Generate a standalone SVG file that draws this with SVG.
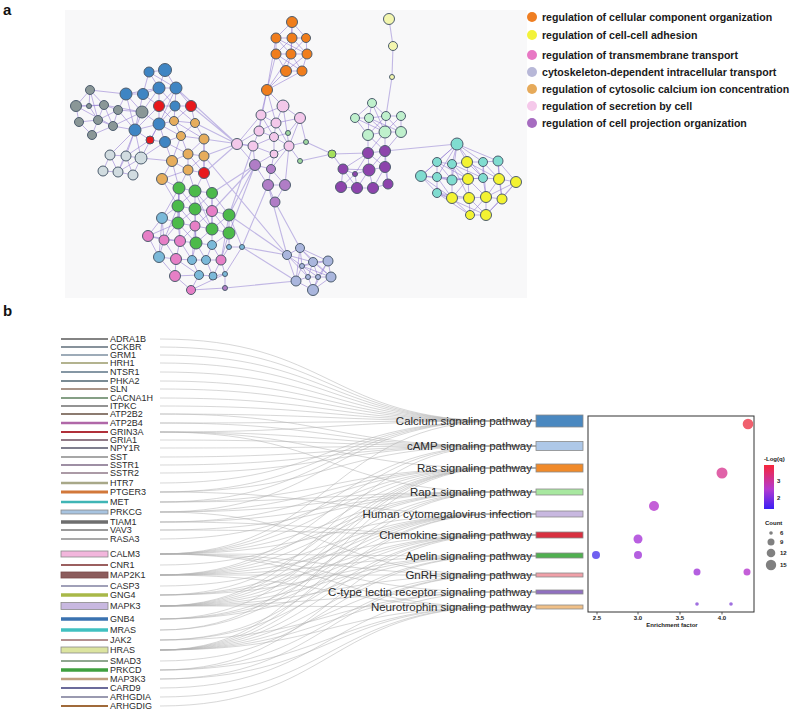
<svg xmlns="http://www.w3.org/2000/svg" width="790" height="713" viewBox="0 0 790 713">
<defs>
<linearGradient id="lq" x1="0" y1="0" x2="0" y2="1">
<stop offset="0" stop-color="#f7263a"/><stop offset="0.55" stop-color="#b43ad0"/><stop offset="1" stop-color="#3a1ff5"/>
</linearGradient>
</defs>
<style>
text{font-family:"Liberation Sans",Arial,sans-serif}
.pl{font-weight:bold;font-size:15px;fill:#111}
.lg{font-weight:bold;font-size:10.6px;fill:#1a1a1a}
.n circle{stroke:#4d5d6e;stroke-width:1}
.e{fill:none;stroke:#8f78d0;stroke-width:0.8;opacity:0.7}
.ex{fill:none;stroke:#b3a6de;stroke-width:1.1;opacity:0.8}
.blue{fill:#3f85c3}.red{fill:#e8191c}.gray{fill:#8a9797}.tan{fill:#e6ad5c}.lgr{fill:#d1dce0}
.grn{fill:#4cba4a}.pnk{fill:#e67fc6}.lbl{fill:#7bb9d9}.org{fill:#f07d1c}.lyl{fill:#f3f6ae}
.lgn{fill:#bff0cc}.lpk{fill:#f3c8ea}.sgn{fill:#9fd89f}.lim{fill:#a4e05a}.pur{fill:#b07dc6}
.dpu{fill:#8d44ac}.lav{fill:#aab6dd}.cyn{fill:#80dcd0}.yel{fill:#f3f332}
.gt{font-size:9px;fill:#2a2a2a}
.pt{font-size:11.5px;fill:#2a2a2a;text-anchor:end}
.lk{fill:none;stroke:#b0b0b0;stroke-width:0.6;opacity:0.85}
.pb{stroke:#8a8a8a;stroke-width:0.8}
.ax{font-size:6px;font-weight:bold;fill:#222}
</style>
<rect width="790" height="713" fill="#ffffff"/>
<text class="pl" x="3" y="15">a</text>
<text class="pl" x="3" y="316">b</text>
<rect x="65" y="10" width="462" height="288" fill="#f8f8f9"/>

<g id="network-edges">
<path class="ex" d="M191,106L237,144M176,88L237,144M204,139L253,146M195,123L237,144M204,173L237,144M204,156L237,144M229,215L255,165M212,193L255,165M229,233L255,165M229,215L253,146M242,247L268,185M212,211L255,165M204,156L287,255M229,215L287,255M242,247L287,255M225,288L296,281M242,247L296,281M275,202L300,248M268,185L287,255M385,151L457,144M332,154L343,169M332,154L368,153M306,142L332,154M300,161L332,154M392,77L386,116M393,46L392,77M389,19L393,46"/>
<path class="e" d="M90,90L76,106M90,90L104,105M90,90L89,106M90,90L98,120M76,106L89,106M76,106L79,122M76,106L104,105M89,106L104,105M89,106L98,120M104,105L118,110M104,105L98,120M104,105L113,126M118,110L142,112M118,110L113,126M118,110L98,120M79,122L98,120M79,122L92,135M98,120L113,126M98,120L92,135M113,126L92,135M113,126L142,112M142,112L126,94M142,112L135,130M118,110L126,94M142,112L159,124M142,112L159,88M104,105L142,112M76,106L113,126M113,126L135,130M118,110L135,130M90,90L126,94"/>
<path class="e" d="M149,72L165,70M149,72L159,88M149,72L176,88M165,70L159,88M165,70L176,88M159,88L176,88M159,88L143,94M126,94L143,94M126,94L159,88M159,88L159,106M176,88L159,106M176,88L175,106M159,88L175,106M159,106L175,106M176,88L191,106M175,106L191,106M159,106L159,124M175,106L159,124M159,124L135,130M135,130L159,106M159,124L165,142M150,140L159,124M150,140L165,142M135,130L150,140M143,94L159,106M126,94L135,130M143,94L135,130M149,72L143,94M159,124L174,121M175,106L174,121M159,106L174,121M159,124L181,136M165,142L181,136M174,121L195,123M174,121L181,136M195,123L181,136M195,123L204,139M181,136L204,139M174,121L204,139M191,106L195,123M191,106L174,121M165,142L188,154M181,136L188,154M204,139L188,154M204,139L204,156M188,154L204,156M188,154L172,161M204,156L188,170M172,161L188,170M188,154L188,170M172,161L162,179M188,170L162,179M204,156L204,173M188,170L204,173M188,154L204,173M204,139L204,173M181,136L172,161M165,142L172,161M159,124L176,88M175,106L195,123"/>
<path class="e" d="M135,130L110,155M135,130L126,156M135,130L141,158M135,130L118,172M110,155L126,156M126,156L141,158M110,155L103,171M103,171L118,172M118,172L133,175M126,156L118,172M141,158L133,175M110,155L118,172M126,156L133,175M141,158L118,172M165,142L141,158M159,124L141,158M141,158L172,161M150,140L126,156"/>
<path class="e" d="M162,179L179,188M162,179L178,206M188,170L179,188M188,170L195,191M204,173L195,191M204,173L212,193M172,161L179,188M179,188L195,191M195,191L212,193M179,188L178,206M179,188L195,209M195,191L178,206M195,191L195,209M212,193L195,209M212,193L212,211M178,206L195,209M178,206L178,223M195,209L212,211M195,209L195,226M195,209L178,223M178,223L195,226M212,211L229,215M212,211L212,229M229,215L212,229M229,215L229,233M212,229L229,233M195,226L212,229M178,223L180,241M178,223L164,240M195,226L180,241M195,226L196,243M212,229L196,243M196,243L180,241M196,243L212,245M212,229L212,245M229,233L212,245M148,236L178,223M148,236L164,240M164,240L180,241M162,218L178,223M162,218L178,206M162,218L148,236M162,218L164,240M148,236L159,257M164,240L176,259M180,241L176,259M176,259L159,257M176,259L192,260M196,243L192,260M196,243L206,260M192,260L206,260M206,260L221,260M212,245L221,260M229,233L221,260M176,259L175,276M175,276L199,275M192,260L199,275M199,275L213,276M206,260L213,276M221,260L213,276M175,276L191,290M191,290L199,275M191,290L225,274M225,274L213,276M229,247L242,247M242,247L229,215M229,247L229,233M242,247L225,274M225,274L225,288M191,290L225,288M159,257L175,276M148,236L180,241M178,206L164,240M178,223L196,243M195,209L212,229M195,191L212,211M179,188L178,223M212,211L195,226M212,245L206,260M176,259L199,275M180,241L192,260M162,218L179,188M229,215L221,260M221,260L225,274M229,247L221,260M212,193L229,215M195,226L192,260M178,206L195,226M195,209L196,243M179,188L180,241M195,191L212,229M212,193L212,229M212,211L229,233M162,218L159,257M164,240L159,257"/>
<path class="e" d="M267,90L276,54M267,90L286,71M267,90L276,38M267,90L291,54M267,90L302,71M267,90L261,115M267,90L283,106M267,90L259,131M267,90L276,123M292,22L276,38M292,22L292,38M292,22L306,38M276,38L292,38M292,38L306,38M276,38L276,54M276,38L291,54M292,38L291,54M292,38L307,54M306,38L307,54M276,54L291,54M291,54L307,54M276,54L286,71M291,54L286,71M291,54L302,71M307,54L302,71M286,71L302,71M276,38L307,54M276,54L292,38M306,38L291,54M292,22L291,54M276,54L302,71M307,54L286,71"/>
<path class="e" d="M283,106L261,115M283,106L300,118M283,106L276,123M261,115L276,123M261,115L259,131M276,123L259,131M276,123L274,137M259,131L274,137M300,118L289,146M283,106L289,146M274,137L289,146M259,131L253,146M274,137L253,146M253,146L237,144M237,144L259,131M276,123L289,146M300,118L276,123M261,115L237,144M274,137L274,154M253,146L274,154M289,146L274,154M253,146L255,165M274,154L271,169M274,154L255,165M274,137L288,133M300,118L288,133M289,146L306,142M300,118L306,142M289,146L300,161M237,144L255,165M261,115L274,137M255,165L271,169M255,165L268,185M271,169L268,185M271,169L285,185M268,185L285,185M268,185L275,202M285,185L275,202M285,185L289,146M271,169L289,146"/>
<path class="e" d="M372,103L355,118M372,103L369,118M372,103L386,116M355,118L369,118M369,118L386,116M386,116L401,116M355,118L368,135M369,118L368,135M369,118L385,132M386,116L385,132M386,116L401,132M401,116L401,132M368,135L385,132M385,132L401,132M369,118L401,132M368,135L368,153M385,132L368,153M385,132L385,151M401,132L385,151M368,135L385,151M372,103L385,132M401,116L385,132M355,118L385,132M386,116L368,135"/>
<path class="e" d="M368,153L385,151M368,153L343,169M368,153L369,170M385,151L385,167M368,153L385,167M385,151L369,170M343,169L355,174M343,169L341,187M355,174L369,170M355,174L357,188M369,170L385,167M369,170L357,188M369,170L373,188M385,167L373,188M385,167L388,184M341,187L357,188M357,188L373,188M373,188L388,184M343,169L369,170M341,187L355,174M385,151L388,184M343,169L357,188M368,153L355,174"/>
<path class="e" d="M457,144L437,162M457,144L452,164M457,144L467,162M457,144L483,162M457,144L498,161M457,144L421,176M437,162L452,164M452,164L467,162M467,162L483,162M483,162L498,161M437,162L421,176M437,162L437,177M452,164L452,180M467,162L468,179M483,162L483,178M498,161L499,179M421,176L437,177M437,177L452,180M452,180L468,179M468,179L483,178M483,178L499,179M499,179L516,182M421,176L437,193M437,177L437,193M437,193L452,198M452,180L452,198M452,198L469,198M468,179L469,198M469,198L486,197M483,178L486,197M486,197L502,199M499,179L502,199M516,182L502,199M469,198L470,215M486,197L486,215M470,215L486,215M486,197L470,215M469,198L486,215M502,199L486,215M437,162L468,179M452,164L468,179M437,177L452,198M457,144L437,177M457,144L452,180M457,144L483,178M498,161L516,182M483,162L499,179M467,162L483,178M452,164L483,178M437,162L452,180M421,176L452,180M452,198L470,215M452,180L483,178M468,179L486,197M437,193L469,198M437,193L470,215M516,182L486,197M421,176L452,198M467,162L499,179M452,164L469,198M483,162L486,197M437,177L468,179M468,179L452,198M499,179L486,197M498,161L502,199M516,182L486,215M437,193L486,215"/>
<path class="e" d="M300,248L287,255M300,248L313,262M300,248L302,266M287,255L302,266M287,255L296,281M302,266L313,262M302,266L308,277M302,266L318,277M313,262L328,261M313,262L318,277M328,261L331,277M328,261L318,277M308,277L318,277M318,277L331,277M308,277L296,281M296,281L313,290M308,277L313,290M318,277L313,290M331,277L313,290M300,248L328,261M287,255L308,277M313,262L331,277M302,266L328,261M300,248L296,281M313,262L308,277M302,266L331,277M287,255L313,262M296,281L302,266M300,248L331,277M328,261L313,290"/>
</g>

<g id="network-nodes" class="n">
<g id="cl-gray"><circle class="gray" cx="90" cy="90" r="4.5"/><circle class="gray" cx="76" cy="106" r="5.5"/><circle class="gray" cx="89" cy="106" r="2.5"/><circle class="gray" cx="104" cy="105" r="4.5"/><circle class="gray" cx="118" cy="110" r="4.5"/><circle class="gray" cx="142" cy="112" r="6"/><circle class="gray" cx="79" cy="122" r="4.5"/><circle class="gray" cx="98" cy="120" r="4.5"/><circle class="gray" cx="113" cy="126" r="4.5"/><circle class="gray" cx="92" cy="135" r="4.5"/></g>
<g id="cl-blue"><circle class="blue" cx="149" cy="72" r="5"/><circle class="blue" cx="165" cy="70" r="6.5"/><circle class="blue" cx="159" cy="88" r="6"/><circle class="blue" cx="176" cy="88" r="6"/><circle class="blue" cx="126" cy="94" r="6"/><circle class="blue" cx="143" cy="94" r="5.5"/><circle class="blue" cx="175" cy="106" r="5"/><circle class="blue" cx="135" cy="130" r="6"/><circle class="blue" cx="159" cy="124" r="6"/><circle class="blue" cx="165" cy="142" r="5.5"/></g>
<g id="cl-red"><circle class="red" cx="159" cy="106" r="5.5"/><circle class="red" cx="191" cy="106" r="5.5"/><circle class="red" cx="150" cy="140" r="4"/><circle class="red" cx="204" cy="173" r="5.5"/></g>
<g id="cl-tan"><circle class="tan" cx="174" cy="121" r="4.5"/><circle class="tan" cx="195" cy="123" r="4.5"/><circle class="tan" cx="181" cy="136" r="4.5"/><circle class="tan" cx="204" cy="139" r="5"/><circle class="tan" cx="188" cy="154" r="5"/><circle class="tan" cx="204" cy="156" r="5"/><circle class="tan" cx="172" cy="161" r="5.5"/><circle class="tan" cx="188" cy="170" r="5"/><circle class="tan" cx="162" cy="179" r="5.5"/></g>
<g id="cl-lightgray"><circle class="lgr" cx="110" cy="155" r="5"/><circle class="lgr" cx="126" cy="156" r="5"/><circle class="lgr" cx="141" cy="158" r="6"/><circle class="lgr" cx="103" cy="171" r="5"/><circle class="lgr" cx="118" cy="172" r="5"/><circle class="lgr" cx="133" cy="175" r="5"/></g>
<g id="cl-green"><circle class="grn" cx="179" cy="188" r="6"/><circle class="grn" cx="195" cy="191" r="6"/><circle class="grn" cx="212" cy="193" r="5.5"/><circle class="grn" cx="178" cy="206" r="6"/><circle class="grn" cx="195" cy="209" r="6"/><circle class="grn" cx="229" cy="215" r="6"/><circle class="grn" cx="178" cy="223" r="6"/><circle class="grn" cx="212" cy="229" r="6"/><circle class="grn" cx="229" cy="233" r="6"/><circle class="grn" cx="196" cy="243" r="6"/></g>
<g id="cl-pink"><circle class="pnk" cx="212" cy="211" r="5.5"/><circle class="pnk" cx="195" cy="226" r="5"/><circle class="pnk" cx="148" cy="236" r="5.5"/><circle class="pnk" cx="164" cy="240" r="5"/><circle class="pnk" cx="180" cy="241" r="5.5"/><circle class="pnk" cx="176" cy="259" r="5.5"/><circle class="pnk" cx="221" cy="260" r="5"/><circle class="pnk" cx="175" cy="276" r="5.5"/><circle class="pnk" cx="191" cy="290" r="4.5"/></g>
<g id="cl-lightblue"><circle class="lbl" cx="162" cy="218" r="5.5"/><circle class="lbl" cx="212" cy="245" r="4.5"/><circle class="lbl" cx="159" cy="257" r="5.5"/><circle class="lbl" cx="192" cy="260" r="4.5"/><circle class="lbl" cx="206" cy="260" r="4.5"/><circle class="lbl" cx="199" cy="275" r="4.5"/><circle class="lbl" cx="213" cy="276" r="4"/><circle class="lbl" cx="229" cy="247" r="2.5"/><circle class="lbl" cx="242" cy="247" r="2.5"/><circle class="lbl" cx="225" cy="274" r="2.5"/><circle class="pur" cx="225" cy="288" r="2.5"/></g>
<g id="cl-orange"><circle class="org" cx="292" cy="22" r="5.5"/><circle class="org" cx="276" cy="38" r="5"/><circle class="org" cx="292" cy="38" r="5"/><circle class="org" cx="306" cy="38" r="4.5"/><circle class="org" cx="276" cy="54" r="5"/><circle class="org" cx="291" cy="54" r="5"/><circle class="org" cx="307" cy="54" r="5"/><circle class="org" cx="286" cy="71" r="5.5"/><circle class="org" cx="302" cy="71" r="5"/><circle class="org" cx="267" cy="90" r="5.5"/></g>
<g id="cl-lightyellow"><circle class="lyl" cx="389" cy="19" r="5.5"/><circle class="lyl" cx="393" cy="46" r="4.5"/><circle class="lyl" cx="392" cy="77" r="2.5"/></g>
<g id="cl-lightgreen"><circle class="lgn" cx="372" cy="103" r="4.5"/><circle class="lgn" cx="355" cy="118" r="4.5"/><circle class="lgn" cx="369" cy="118" r="4.5"/><circle class="lgn" cx="386" cy="116" r="4.5"/><circle class="lgn" cx="401" cy="116" r="4.5"/><circle class="lgn" cx="368" cy="135" r="5.5"/><circle class="lgn" cx="385" cy="132" r="6"/><circle class="lgn" cx="401" cy="132" r="5.5"/></g>
<g id="cl-secretion"><circle class="lpk" cx="283" cy="106" r="6"/><circle class="lpk" cx="261" cy="115" r="5"/><circle class="lpk" cx="300" cy="118" r="5.5"/><circle class="lpk" cx="276" cy="123" r="5"/><circle class="lpk" cx="259" cy="131" r="5"/><circle class="lpk" cx="274" cy="137" r="4.5"/><circle class="lpk" cx="289" cy="146" r="5"/><circle class="lpk" cx="253" cy="146" r="5"/><circle class="lpk" cx="237" cy="144" r="5.5"/><circle class="lpk" cx="274" cy="154" r="4"/></g>
<g id="cl-smallgreen"><circle class="sgn" cx="288" cy="133" r="2.5"/><circle class="sgn" cx="306" cy="142" r="2.5"/><circle class="sgn" cx="300" cy="161" r="2.5"/><circle class="lim" cx="332" cy="154" r="4"/></g>
<g id="cl-projection"><circle class="pur" cx="255" cy="165" r="5.5"/><circle class="pur" cx="271" cy="169" r="4.5"/><circle class="pur" cx="268" cy="185" r="5.5"/><circle class="pur" cx="285" cy="185" r="5.5"/><circle class="pur" cx="275" cy="202" r="5"/></g>
<g id="cl-darkpurple"><circle class="dpu" cx="368" cy="153" r="5.5"/><circle class="dpu" cx="385" cy="151" r="5.5"/><circle class="dpu" cx="343" cy="169" r="5"/><circle class="dpu" cx="355" cy="174" r="2.5"/><circle class="dpu" cx="369" cy="170" r="6"/><circle class="dpu" cx="385" cy="167" r="5.5"/><circle class="dpu" cx="341" cy="187" r="5.5"/><circle class="dpu" cx="357" cy="188" r="5.5"/><circle class="dpu" cx="373" cy="188" r="5.5"/><circle class="dpu" cx="388" cy="184" r="5"/></g>
<g id="cl-lavender"><circle class="lav" cx="300" cy="248" r="4.5"/><circle class="lav" cx="287" cy="255" r="4.5"/><circle class="lav" cx="302" cy="266" r="2.5"/><circle class="lav" cx="313" cy="262" r="4.5"/><circle class="lav" cx="328" cy="261" r="5"/><circle class="lav" cx="308" cy="277" r="2.5"/><circle class="lav" cx="318" cy="277" r="2.5"/><circle class="lav" cx="331" cy="277" r="5"/><circle class="lav" cx="296" cy="281" r="5"/><circle class="lav" cx="313" cy="290" r="5.5"/></g>
<g id="cl-cyan"><circle class="cyn" cx="457" cy="144" r="6"/><circle class="cyn" cx="437" cy="162" r="4.5"/><circle class="cyn" cx="452" cy="164" r="4.5"/><circle class="cyn" cx="483" cy="162" r="4.5"/><circle class="cyn" cx="498" cy="161" r="5"/><circle class="cyn" cx="421" cy="176" r="5.5"/><circle class="cyn" cx="437" cy="177" r="4.5"/><circle class="cyn" cx="452" cy="180" r="5"/><circle class="cyn" cx="483" cy="178" r="4.5"/><circle class="cyn" cx="437" cy="193" r="4.5"/></g>
<g id="cl-yellow"><circle class="yel" cx="467" cy="162" r="5.5"/><circle class="yel" cx="468" cy="179" r="5.5"/><circle class="yel" cx="499" cy="179" r="5.5"/><circle class="yel" cx="516" cy="182" r="5.5"/><circle class="yel" cx="452" cy="198" r="5.5"/><circle class="yel" cx="469" cy="198" r="5.5"/><circle class="yel" cx="486" cy="197" r="5.5"/><circle class="yel" cx="502" cy="199" r="5"/><circle class="yel" cx="470" cy="215" r="4.5"/><circle class="yel" cx="486" cy="215" r="5.5"/></g>
</g>

<g id="network-legend">
<circle cx="532" cy="17" r="5" fill="#ef7e22"/><text class="lg" x="542" y="21">regulation of cellular component organization</text>
<circle cx="532" cy="35" r="5" fill="#f2f23a"/><text class="lg" x="542" y="39">regulation of cell-cell adhesion</text>
<circle cx="532" cy="55" r="5" fill="#e878c4"/><text class="lg" x="542" y="59">regulation of transmembrane transport</text>
<circle cx="532" cy="72" r="5" fill="#b8b8d8"/><text class="lg" x="542" y="76">cytoskeleton-dependent intracellular transport</text>
<circle cx="532" cy="89" r="5" fill="#e6aa5a"/><text class="lg" x="542" y="93">regulation of cytosolic calcium ion concentration</text>
<circle cx="532" cy="106" r="5" fill="#f5c8ea"/><text class="lg" x="542" y="110">regulation of secretion by cell</text>
<circle cx="532" cy="123" r="5" fill="#a66cc0"/><text class="lg" x="542" y="127">regulation of cell projection organization</text>
</g>

<g id="links">
<path class="lk" d="M160,339C330,339 330,421 500,421H536M160,347C330,347 330,421 500,421H536M160,355C330,355 330,421 500,421H536M160,363C330,363 330,421 500,421H536M160,372C330,372 330,421 500,421H536M160,381C330,381 330,421 500,421H536M160,389C330,389 330,421 500,421H536M160,398C330,398 330,421 500,421H536M160,406C330,406 330,421 500,421H536M160,414C330,414 330,421 500,421H536M160,423C330,423 330,421 500,421H536M160,432C330,432 330,421 500,421H536M160,483C330,483 330,421 500,421H536M160,492C330,492 330,421 500,421H536M160,502C330,502 330,421 500,421H536M160,512C330,512 330,421 500,421H536M160,554C330,554 330,421 500,421H536"/>
<path class="lk" d="M160,414C330,414 330,446 500,446H536M160,423C330,423 330,446 500,446H536M160,432C330,432 330,446 500,446H536M160,440C330,440 330,446 500,446H536M160,448C330,448 330,446 500,446H536M160,457C330,457 330,446 500,446H536M160,465C330,465 330,446 500,446H536M160,473C330,473 330,446 500,446H536M160,492C330,492 330,446 500,446H536M160,554C330,554 330,446 500,446H536M160,575C330,575 330,446 500,446H536M160,606C330,606 330,446 500,446H536"/>
<path class="lk" d="M160,432C330,432 330,468 500,468H536M160,502C330,502 330,468 500,468H536M160,512C330,512 330,468 500,468H536M160,522C330,522 330,468 500,468H536M160,539C330,539 330,468 500,468H536M160,554C330,554 330,468 500,468H536M160,575C330,575 330,468 500,468H536M160,595C330,595 330,468 500,468H536M160,606C330,606 330,468 500,468H536M160,619C330,619 330,468 500,468H536M160,630C330,630 330,468 500,468H536M160,650C330,650 330,468 500,468H536"/>
<path class="lk" d="M160,432C330,432 330,492 500,492H536M160,502C330,502 330,492 500,492H536M160,512C330,512 330,492 500,492H536M160,522C330,522 330,492 500,492H536M160,530C330,530 330,492 500,492H536M160,554C330,554 330,492 500,492H536M160,565C330,565 330,492 500,492H536M160,575C330,575 330,492 500,492H536M160,606C330,606 330,492 500,492H536M160,630C330,630 330,492 500,492H536M160,650C330,650 330,492 500,492H536"/>
<path class="lk" d="M160,492C330,492 330,514 500,514H536M160,554C330,554 330,514 500,514H536M160,575C330,575 330,514 500,514H536M160,586C330,586 330,514 500,514H536M160,595C330,595 330,514 500,514H536M160,606C330,606 330,514 500,514H536M160,619C330,619 330,514 500,514H536M160,640C330,640 330,514 500,514H536M160,650C330,650 330,514 500,514H536"/>
<path class="lk" d="M160,522C330,522 330,535 500,535H536M160,530C330,530 330,535 500,535H536M160,575C330,575 330,535 500,535H536M160,595C330,595 330,535 500,535H536M160,606C330,606 330,535 500,535H536M160,619C330,619 330,535 500,535H536M160,640C330,640 330,535 500,535H536M160,650C330,650 330,535 500,535H536M160,670C330,670 330,535 500,535H536"/>
<path class="lk" d="M160,554C330,554 330,556 500,556H536M160,575C330,575 330,556 500,556H536M160,595C330,595 330,556 500,556H536M160,606C330,606 330,556 500,556H536M160,619C330,619 330,556 500,556H536M160,650C330,650 330,556 500,556H536M160,661C330,661 330,556 500,556H536"/>
<path class="lk" d="M160,512C330,512 330,575 500,575H536M160,554C330,554 330,575 500,575H536M160,575C330,575 330,575 500,575H536M160,606C330,606 330,575 500,575H536M160,650C330,650 330,575 500,575H536M160,670C330,670 330,575 500,575H536M160,679C330,679 330,575 500,575H536"/>
<path class="lk" d="M160,554C330,554 330,592 500,592H536M160,606C330,606 330,592 500,592H536M160,640C330,640 330,592 500,592H536M160,650C330,650 330,592 500,592H536M160,688C330,688 330,592 500,592H536"/>
<path class="lk" d="M160,554C330,554 330,607 500,607H536M160,575C330,575 330,607 500,607H536M160,606C330,606 330,607 500,607H536M160,650C330,650 330,607 500,607H536M160,670C330,670 330,607 500,607H536M160,679C330,679 330,607 500,607H536M160,697C330,697 330,607 500,607H536M160,706C330,706 330,607 500,607H536"/>
</g>

<g id="genes">
<g id="g-ADRA1B"><line x1="61" y1="339" x2="108" y2="339" stroke="#5a5a5a" stroke-width="1.5"/><text class="gt" x="110" y="342.2">ADRA1B</text></g>
<g id="g-CCKBR"><line x1="61" y1="347" x2="108" y2="347" stroke="#5f6e7a" stroke-width="1.5"/><text class="gt" x="110" y="350.2">CCKBR</text></g>
<g id="g-GRM1"><line x1="61" y1="355" x2="108" y2="355" stroke="#7d8fa0" stroke-width="1.5"/><text class="gt" x="110" y="358.2">GRM1</text></g>
<g id="g-HRH1"><line x1="61" y1="363" x2="108" y2="363" stroke="#9a9a6a" stroke-width="1.5"/><text class="gt" x="110" y="366.2">HRH1</text></g>
<g id="g-NTSR1"><line x1="61" y1="372" x2="108" y2="372" stroke="#5d7486" stroke-width="1.5"/><text class="gt" x="110" y="375.2">NTSR1</text></g>
<g id="g-PHKA2"><line x1="61" y1="381" x2="108" y2="381" stroke="#4e6470" stroke-width="1.5"/><text class="gt" x="110" y="384.2">PHKA2</text></g>
<g id="g-SLN"><line x1="61" y1="389" x2="108" y2="389" stroke="#8c7262" stroke-width="1.5"/><text class="gt" x="110" y="392.2">SLN</text></g>
<g id="g-CACNA1H"><line x1="61" y1="398" x2="108" y2="398" stroke="#5d7f5d" stroke-width="1.5"/><text class="gt" x="110" y="401.2">CACNA1H</text></g>
<g id="g-ITPKC"><line x1="61" y1="406" x2="108" y2="406" stroke="#6f6f6f" stroke-width="1.5"/><text class="gt" x="110" y="409.2">ITPKC</text></g>
<g id="g-ATP2B2"><line x1="61" y1="414" x2="108" y2="414" stroke="#8c7b70" stroke-width="2"/><text class="gt" x="110" y="417.2">ATP2B2</text></g>
<g id="g-ATP2B4"><line x1="61" y1="423" x2="108" y2="423" stroke="#b067a8" stroke-width="2.5"/><text class="gt" x="110" y="426.2">ATP2B4</text></g>
<g id="g-GRIN3A"><line x1="61" y1="432" x2="108" y2="432" stroke="#b0303a" stroke-width="2"/><text class="gt" x="110" y="435.2">GRIN3A</text></g>
<g id="g-GRIA1"><line x1="61" y1="440" x2="108" y2="440" stroke="#6b4f60" stroke-width="1.5"/><text class="gt" x="110" y="443.2">GRIA1</text></g>
<g id="g-NPY1R"><line x1="61" y1="448" x2="108" y2="448" stroke="#545468" stroke-width="1.5"/><text class="gt" x="110" y="451.2">NPY1R</text></g>
<g id="g-SST"><line x1="61" y1="457" x2="108" y2="457" stroke="#8a8a8a" stroke-width="1.5"/><text class="gt" x="110" y="460.2">SST</text></g>
<g id="g-SSTR1"><line x1="61" y1="465" x2="108" y2="465" stroke="#7e6a86" stroke-width="1.5"/><text class="gt" x="110" y="468.2">SSTR1</text></g>
<g id="g-SSTR2"><line x1="61" y1="473" x2="108" y2="473" stroke="#8f7888" stroke-width="1.5"/><text class="gt" x="110" y="476.2">SSTR2</text></g>
<g id="g-HTR7"><line x1="61" y1="483" x2="108" y2="483" stroke="#a8a888" stroke-width="2.5"/><text class="gt" x="110" y="486.2">HTR7</text></g>
<g id="g-PTGER3"><line x1="61" y1="492" x2="108" y2="492" stroke="#d2783a" stroke-width="3"/><text class="gt" x="110" y="495.2">PTGER3</text></g>
<g id="g-MET"><line x1="61" y1="502" x2="108" y2="502" stroke="#3fb5b5" stroke-width="2.5"/><text class="gt" x="110" y="505.2">MET</text></g>
<g id="g-PRKCG"><rect x="61" y="510" width="47" height="4" fill="#a8c4e0" class="pb"/><text class="gt" x="110" y="515.2">PRKCG</text></g>
<g id="g-TIAM1"><line x1="61" y1="522" x2="108" y2="522" stroke="#6e6e6e" stroke-width="3.5"/><text class="gt" x="110" y="525.2">TIAM1</text></g>
<g id="g-VAV3"><line x1="61" y1="530" x2="108" y2="530" stroke="#9a9a9a" stroke-width="2"/><text class="gt" x="110" y="533.2">VAV3</text></g>
<g id="g-RASA3"><line x1="61" y1="539" x2="108" y2="539" stroke="#8c8c8c" stroke-width="1.5"/><text class="gt" x="110" y="542.2">RASA3</text></g>
<g id="g-CALM3"><rect x="61" y="551" width="47" height="6" fill="#f2b6dc" class="pb"/><text class="gt" x="110" y="557.2">CALM3</text></g>
<g id="g-CNR1"><line x1="61" y1="565" x2="108" y2="565" stroke="#7a2a2a" stroke-width="1.5"/><text class="gt" x="110" y="568.2">CNR1</text></g>
<g id="g-MAP2K1"><rect x="61" y="572" width="47" height="6" fill="#8c5c5c" stroke="#7a4a4a" stroke-width="0.8"/><text class="gt" x="110" y="578.2">MAP2K1</text></g>
<g id="g-CASP3"><line x1="61" y1="586" x2="108" y2="586" stroke="#8080a0" stroke-width="1.5"/><text class="gt" x="110" y="589.2">CASP3</text></g>
<g id="g-GNG4"><line x1="61" y1="595" x2="108" y2="595" stroke="#a8b848" stroke-width="3.5"/><text class="gt" x="110" y="598.2">GNG4</text></g>
<g id="g-MAPK3"><rect x="61" y="602.5" width="47" height="7" fill="#c8b8e0" class="pb"/><text class="gt" x="110" y="609.2">MAPK3</text></g>
<g id="g-GNB4"><line x1="61" y1="619" x2="108" y2="619" stroke="#3a72b0" stroke-width="3.5"/><text class="gt" x="110" y="622.2">GNB4</text></g>
<g id="g-MRAS"><line x1="61" y1="630" x2="108" y2="630" stroke="#40c0c0" stroke-width="3.5"/><text class="gt" x="110" y="633.2">MRAS</text></g>
<g id="g-JAK2"><line x1="61" y1="640" x2="108" y2="640" stroke="#9a6a6a" stroke-width="1.5"/><text class="gt" x="110" y="643.2">JAK2</text></g>
<g id="g-HRAS"><rect x="61" y="647" width="47" height="6" fill="#dce4a0" class="pb"/><text class="gt" x="110" y="653.2">HRAS</text></g>
<g id="g-SMAD3"><line x1="61" y1="661" x2="108" y2="661" stroke="#6a8a6a" stroke-width="1.5"/><text class="gt" x="110" y="664.2">SMAD3</text></g>
<g id="g-PRKCD"><line x1="61" y1="670" x2="108" y2="670" stroke="#3fa03f" stroke-width="3.5"/><text class="gt" x="110" y="673.2">PRKCD</text></g>
<g id="g-MAP3K3"><line x1="61" y1="679" x2="108" y2="679" stroke="#c0a080" stroke-width="2.5"/><text class="gt" x="110" y="682.2">MAP3K3</text></g>
<g id="g-CARD9"><line x1="61" y1="688" x2="108" y2="688" stroke="#3a3a7a" stroke-width="1.5"/><text class="gt" x="110" y="691.2">CARD9</text></g>
<g id="g-ARHGDIA"><line x1="61" y1="697" x2="108" y2="697" stroke="#9a9ab0" stroke-width="2"/><text class="gt" x="110" y="700.2">ARHGDIA</text></g>
<g id="g-ARHGDIG"><line x1="61" y1="706" x2="108" y2="706" stroke="#a06a3a" stroke-width="2"/><text class="gt" x="110" y="709.2">ARHGDIG</text></g>
</g>

<g id="pathways">
<g id="p-calcium"><text class="pt" x="532" y="425">Calcium signaling pathway</text><rect x="536" y="415" width="47" height="12" fill="#4a88c0" class="pb"/></g>
<g id="p-camp"><text class="pt" x="532" y="450">cAMP signaling pathway</text><rect x="536" y="441.5" width="47" height="9" fill="#aec8e8" class="pb"/></g>
<g id="p-ras"><text class="pt" x="532" y="472">Ras signaling pathway</text><rect x="536" y="464" width="47" height="8" fill="#f08a2a" class="pb"/></g>
<g id="p-rap1"><text class="pt" x="532" y="496">Rap1 signaling pathway</text><rect x="536" y="489" width="47" height="6" fill="#a8e8a0" class="pb"/></g>
<g id="p-hcmv"><text class="pt" x="532" y="518">Human cytomegalovirus infection</text><rect x="536" y="511" width="47" height="6" fill="#c8b8e0" class="pb"/></g>
<g id="p-chemokine"><text class="pt" x="532" y="539">Chemokine signaling pathway</text><rect x="536" y="532" width="47" height="6" fill="#d83040" class="pb"/></g>
<g id="p-apelin"><text class="pt" x="532" y="560">Apelin signaling pathway</text><rect x="536" y="553" width="47" height="5" fill="#50b050" class="pb"/></g>
<g id="p-gnrh"><text class="pt" x="532" y="579">GnRH signaling pathway</text><rect x="536" y="573" width="47" height="4" fill="#f0a0a8" class="pb"/></g>
<g id="p-ctype"><text class="pt" x="532" y="596">C-type lectin receptor signaling pathway</text><rect x="536" y="590" width="47" height="4" fill="#9070c0" class="pb"/></g>
<g id="p-neuro"><text class="pt" x="532" y="611">Neurotrophin signaling pathway</text><rect x="536" y="605" width="47" height="4" fill="#f0c088" class="pb"/></g>
</g>

<g id="dotplot">
<rect x="588" y="416" width="166" height="196" fill="#ffffff" stroke="#333" stroke-width="1"/>
<path d="M597,612v2.5M638,612v2.5M680,612v2.5M722,612v2.5" stroke="#333" stroke-width="0.8"/>
<text class="ax" x="597" y="620" text-anchor="middle">2.5</text>
<text class="ax" x="638" y="620" text-anchor="middle">3.0</text>
<text class="ax" x="680" y="620" text-anchor="middle">3.5</text>
<text class="ax" x="722" y="620" text-anchor="middle">4.0</text>
<text class="ax" x="672" y="627" text-anchor="middle">Enrichment factor</text>
<circle cx="748" cy="424" r="5.3" fill="#f0606e"/>
<circle cx="722" cy="473" r="5.5" fill="#e062a8"/>
<circle cx="654" cy="506" r="5" fill="#c45fd8"/>
<circle cx="638" cy="539" r="4.5" fill="#b95fe0"/>
<circle cx="596" cy="555" r="4" fill="#7060f0"/>
<circle cx="638" cy="555" r="4" fill="#b45fe0"/>
<circle cx="697" cy="572" r="3.5" fill="#b45fe0"/>
<circle cx="747" cy="572" r="3.5" fill="#c45fd8"/>
<circle cx="697" cy="604" r="1.8" fill="#a070e0"/>
<circle cx="731" cy="604" r="1.8" fill="#a070e0"/>
<text class="ax" x="764" y="461">-Log(q)</text>
<rect x="764" y="465" width="10" height="44" fill="url(#lq)"/>
<text class="ax" x="777" y="483">3</text>
<text class="ax" x="777" y="500">2</text>
<text class="ax" x="765" y="525">Count</text>
<circle cx="771" cy="533" r="1.8" fill="#808080"/><text class="ax" x="780" y="535">6</text>
<circle cx="771" cy="542" r="3.5" fill="#808080"/><text class="ax" x="780" y="544">9</text>
<circle cx="771" cy="553" r="4.3" fill="#808080"/><text class="ax" x="780" y="555">12</text>
<circle cx="771" cy="565" r="5.2" fill="#808080"/><text class="ax" x="780" y="567">15</text>
</g>
</svg>
